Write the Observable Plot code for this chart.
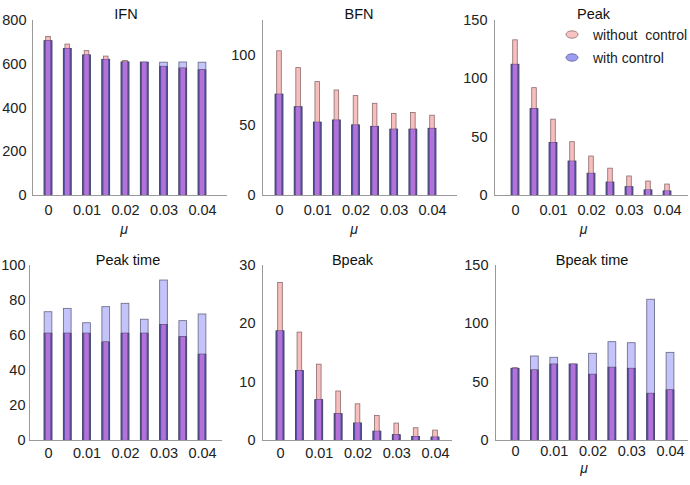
<!DOCTYPE html>
<html><head><meta charset="utf-8">
<script src="https://cdn.jsdelivr.net/npm/d3@7"></script>
<script src="https://cdn.jsdelivr.net/npm/@observablehq/plot@0.6"></script>
<style>
body{margin:0;background:#fff;font-family:"Liberation Sans",Arial,sans-serif;}
#wrap{position:relative;width:690px;height:485px;overflow:hidden;background:#fff}
.panel{position:absolute}
.legend{position:absolute;left:565px;top:23px;font-size:14px;color:#222;white-space:pre}
.legend .row{display:flex;align-items:center;height:23px}
.legend svg{margin-right:14px}
</style></head><body><div id="wrap"></div>
<script>
// ---- data ----
const mu = [0, 0.005, 0.01, 0.015, 0.02, 0.025, 0.03, 0.035, 0.04];
const xTicks = [0, 0.01, 0.02, 0.03, 0.04];
const xTickLabels = ["0", "0.01", "0.02", "0.03", "0.04"];
const seriesNames = ["without  control", "with control"];
const titles = ["IFN", "BFN", "Peak", "Peak time", "Bpeak", "Bpeak time"];

const ifnWithout = [725, 690, 660, 635, 615, 607, 588, 580, 572];
const ifnWith    = [705, 670, 640, 620, 608, 607, 607, 608, 607];
const bfnWithout = [103, 91, 81, 75, 71, 65.5, 58.3, 59, 57];
const bfnWith    = [72, 63, 52, 53.5, 50, 49, 47, 47, 47.6];
const peakWithout = [133, 92, 65, 45.7, 33.4, 23, 16.3, 12, 9.4];
const peakWith    = [112, 74, 45, 29, 18.6, 11, 7, 4.3, 3.4];
const peakTimeWithout = [61, 61, 61, 56, 61, 61, 66, 59, 49];
const peakTimeWith    = [73.3, 75.2, 67, 76.2, 78.1, 69, 91.4, 68.2, 72];
const bpeakWithout = [27, 18.5, 13, 8.4, 6.2, 4.2, 2.9, 2.1, 1.7];
const bpeakWith    = [18.7, 11.9, 6.9, 4.5, 2.9, 1.5, 0.9, 0.6, 0.5];
const bpeakTimeWithout = [62, 60, 65, 65, 56.3, 62.3, 61.4, 40, 42.9];
const bpeakTimeWith    = [61.4, 72, 70.9, 65, 74.3, 84.3, 83.4, 120.6, 75.1];

const yDomains = [[0, 800], [0, 125], [0, 150], [0, 100], [0, 30], [0, 150]];
const yTicks = [
  [0, 200, 400, 600, 800],
  [0, 50, 100],
  [0, 50, 100, 150],
  [0, 20, 40, 60, 80, 100],
  [0, 10, 20, 30],
  [0, 50, 100, 150]
];
const withoutSeries = [ifnWithout, bfnWithout, peakWithout, peakTimeWithout, bpeakWithout, bpeakTimeWithout];
const withSeries = [ifnWith, bfnWith, peakWith, peakTimeWith, bpeakWith, bpeakTimeWith];
const showMu = [true, true, true, false, false, true];

// ---- layout (pixels) ----
const layout = [
  {left: 0,   top: 0,   w: 230, h: 240, L: 32, x0: 48, x4: 202, R: 227, T: 20, B: 195, tdx: -4, tdy: -12, mdx: -6, mdy: 38, tp: 9, yp: 6},
  {left: 230, top: 0,   w: 230, h: 240, L: 32, x0: 49, x4: 202, R: 227, T: 20, B: 195, tdx: -1, tdy: -12, mdx: -6, mdy: 38, tp: 9, yp: 7},
  {left: 460, top: 0,   w: 230, h: 240, L: 34, x0: 55, x4: 207, R: 228, T: 20, B: 195, tdx: 2,  tdy: -12, mdx: -8, mdy: 38, tp: 9, yp: 7},
  {left: 0,   top: 240, w: 230, h: 245, L: 29, x0: 48, x4: 202, R: 222, T: 25, B: 200, tdx: 2,  tdy: -11, mdx: -6, mdy: 31, tp: 7, yp: 4},
  {left: 230, top: 240, w: 230, h: 245, L: 32, x0: 50, x4: 205, R: 222, T: 25, B: 200, tdx: -5, tdy: -11, mdx: -6, mdy: 31, tp: 7, yp: 7},
  {left: 460, top: 240, w: 230, h: 245, L: 35, x0: 55, x4: 210, R: 228, T: 25, B: 200, tdx: 0,  tdy: -11, mdx: -8, mdy: 32, tp: 5, yp: 7}
];

const wrap = document.getElementById("wrap");
const WIDE = 0.001, NARROW = 0.0006;
const FONT = "'Liberation Sans', Arial, sans-serif";

titles.forEach((title, i) => {
  const g = layout[i];
  const k = (g.x4 - g.x0) / 0.04;
  const xDomain = [(g.L - g.x0) / k, (g.R - g.x0) / k];
  const data = mu.map((m, j) => ({
    mu: m,
    woc: withoutSeries[i][j],
    wc: withSeries[i][j],
    both: Math.min(withoutSeries[i][j], withSeries[i][j])
  }));
  const marks = [
    Plot.rect(data, {x1: d => d.mu - WIDE, x2: d => d.mu + WIDE, y1: () => 0, y2: "wc",
      fill: "#c4c4fb", stroke: "#70708f", strokeWidth: 0.9}),
    Plot.rect(data, {x1: d => d.mu - NARROW, x2: d => d.mu + NARROW, y1: () => 0, y2: "woc",
      fill: "#f8bdbd", stroke: "#8a6c6c", strokeWidth: 0.8}),
    Plot.rect(data, {x1: d => d.mu - WIDE, x2: d => d.mu + WIDE, y1: () => 0, y2: "both",
      fill: "#5a50a6", stroke: "#45456a", strokeWidth: 0.9}),
    Plot.rect(data, {x1: d => d.mu - NARROW, x2: d => d.mu + NARROW, y1: () => 0, y2: "both",
      fill: "#b272d8"}),
    Plot.ruleY([0], {stroke: "#999"}),
    Plot.ruleX([xDomain[0]], {stroke: "#999"}),
    Plot.axisY({ticks: yTicks[i], tickSize: 0, tickPadding: g.yp, fontSize: 14.5, tickFormat: d => String(d)}),
    Plot.axisX({ticks: xTicks, tickSize: 0, tickPadding: g.tp, fontSize: 14.5,
      tickFormat: d => xTickLabels[xTicks.indexOf(d)]}),
    Plot.text([title], {frameAnchor: "top", dx: g.tdx, dy: g.tdy, fontSize: 14.5, fill: "#111"})
  ];
  if (showMu[i]) {
    marks.push(Plot.text(["\u03bc"], {frameAnchor: "bottom", dx: g.mdx, dy: g.mdy,
      fontSize: 14, fontStyle: "italic", fill: "#222"}));
  }
  const svg = Plot.plot({
    width: g.w, height: g.h,
    marginLeft: g.L, marginRight: g.w - g.R, marginTop: g.T, marginBottom: g.h - g.B,
    x: {type: "linear", domain: xDomain, axis: null},
    y: {domain: yDomains[i], axis: null},
    style: {fontSize: "14.5px", fontFamily: FONT, color: "#222", background: "transparent", overflow: "visible"},
    marks
  });
  const div = document.createElement("div");
  div.className = "panel";
  div.style.left = g.left + "px";
  div.style.top = g.top + "px";
  div.appendChild(svg);
  wrap.appendChild(div);
});

// legend (in the Peak panel)
const legendColors = [{fill: "#f7c2c2", stroke: "#8a6c6c"}, {fill: "#9c9cf2", stroke: "#5a5a90"}];
const leg = document.createElement("div");
leg.className = "legend";
seriesNames.forEach((name, j) => {
  const row = document.createElement("div");
  row.className = "row";
  row.innerHTML = `<svg width="14" height="9"><ellipse cx="7" cy="4.5" rx="6" ry="3.7" fill="${legendColors[j].fill}" stroke="${legendColors[j].stroke}" stroke-width="0.8"/></svg>`;
  const span = document.createElement("span");
  span.textContent = name;
  row.appendChild(span);
  leg.appendChild(row);
});
wrap.appendChild(leg);
</script></body></html>
